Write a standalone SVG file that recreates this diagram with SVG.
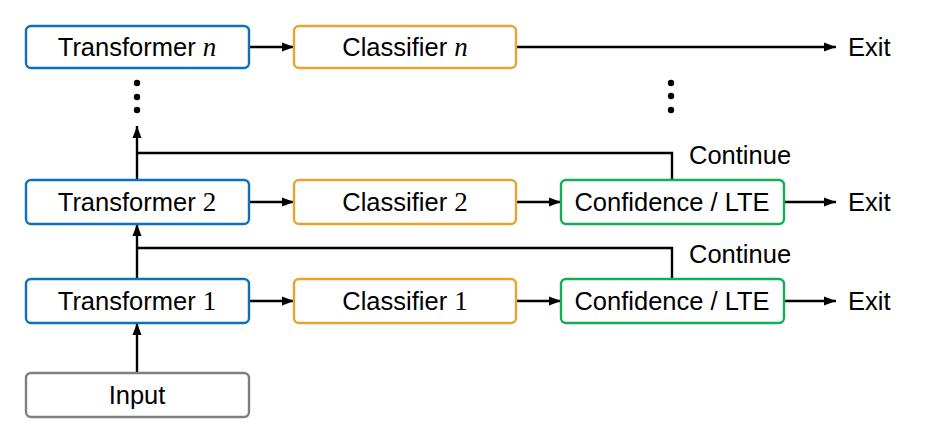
<svg xmlns="http://www.w3.org/2000/svg" width="946" height="443" viewBox="0 0 946 443">
<style>
text{font-family:"Liberation Sans",Arial,sans-serif;font-size:25.5px;fill:#000}
.c{text-anchor:middle}
.m{font-family:"Liberation Serif","Times New Roman",serif;font-size:27px}
.mi{font-style:italic}
.box{fill:#fff;stroke-width:2.4}
.tr{stroke:#0F6FBF}
.cl{stroke:#E8A431}
.cf{stroke:#14AD55}
.in{stroke:#7F7F7F}
.ln{fill:none;stroke:#000;stroke-width:2.4}
</style>
<defs>
<marker id="ah" viewBox="0 0 12 10" refX="12" refY="5" markerWidth="12" markerHeight="10" markerUnits="userSpaceOnUse" orient="auto">
<path d="M0,0.5 L12,5 L0,9.5 z" fill="#000"/>
</marker>
</defs>
<rect width="946" height="443" fill="#fff"/>
<g id="connectors">
<line class="ln" x1="249" y1="47" x2="294" y2="47" marker-end="url(#ah)"/>
<line class="ln" x1="516" y1="47" x2="836" y2="47" marker-end="url(#ah)"/>
<line class="ln" x1="249" y1="202" x2="294" y2="202" marker-end="url(#ah)"/>
<line class="ln" x1="516" y1="202" x2="561" y2="202" marker-end="url(#ah)"/>
<line class="ln" x1="784" y1="202" x2="836" y2="202" marker-end="url(#ah)"/>
<line class="ln" x1="249" y1="301" x2="294" y2="301" marker-end="url(#ah)"/>
<line class="ln" x1="516" y1="301" x2="561" y2="301" marker-end="url(#ah)"/>
<line class="ln" x1="784" y1="301" x2="836" y2="301" marker-end="url(#ah)"/>
<line class="ln" x1="137" y1="373" x2="137" y2="323" marker-end="url(#ah)"/>
<line class="ln" x1="137" y1="279" x2="137" y2="224" marker-end="url(#ah)"/>
<line class="ln" x1="137" y1="180" x2="137" y2="126" marker-end="url(#ah)"/>
<polyline class="ln" points="672,180 672,153 137,153"/>
<polyline class="ln" points="672,279 672,248 137,248"/>
<text x="689" y="164">Continue</text>
<text x="689" y="263">Continue</text>
<text x="848" y="56">Exit</text>
<text x="848" y="211">Exit</text>
<text x="848" y="310">Exit</text>
<circle cx="137" cy="83" r="3.2"/>
<circle cx="137" cy="97" r="3.2"/>
<circle cx="137" cy="110" r="3.2"/>
<circle cx="671" cy="83" r="3.2"/>
<circle cx="671" cy="96" r="3.2"/>
<circle cx="671" cy="110" r="3.2"/>
</g>
<g id="transformer-n">
<rect class="box tr" x="26" y="26" width="223" height="42" rx="5"/>
<text class="c" x="137" y="56">Transformer <tspan class="m mi">n</tspan></text>
</g>
<g id="classifier-n">
<rect class="box cl" x="294" y="26" width="222" height="42" rx="5"/>
<text class="c" x="405" y="56">Classifier <tspan class="m mi">n</tspan></text>
</g>
<g id="transformer-2">
<rect class="box tr" x="26" y="180" width="223" height="44" rx="5"/>
<text class="c" x="137" y="211">Transformer <tspan class="m">2</tspan></text>
</g>
<g id="classifier-2">
<rect class="box cl" x="294" y="180" width="222" height="44" rx="5"/>
<text class="c" x="405" y="211">Classifier <tspan class="m">2</tspan></text>
</g>
<g id="confidence-2">
<rect class="box cf" x="561" y="180" width="223" height="44" rx="5"/>
<text class="c" x="672" y="211">Confidence / LTE</text>
</g>
<g id="transformer-1">
<rect class="box tr" x="26" y="279" width="223" height="44" rx="5"/>
<text class="c" x="137" y="310">Transformer <tspan class="m">1</tspan></text>
</g>
<g id="classifier-1">
<rect class="box cl" x="294" y="279" width="222" height="44" rx="5"/>
<text class="c" x="405" y="310">Classifier <tspan class="m">1</tspan></text>
</g>
<g id="confidence-1">
<rect class="box cf" x="561" y="279" width="223" height="44" rx="5"/>
<text class="c" x="672" y="310">Confidence / LTE</text>
</g>
<g id="input">
<rect class="box in" x="26" y="373" width="223" height="44" rx="5"/>
<text class="c" x="137" y="404">Input</text>
</g>
</svg>
